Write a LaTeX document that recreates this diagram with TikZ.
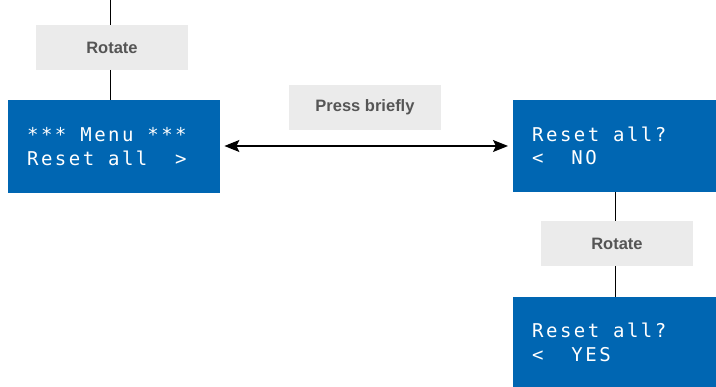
\documentclass[tikz,border=0pt]{standalone}
\usepackage{fontspec}
\setmainfont{Liberation Sans}
\newfontfamily\lcdfont[LetterSpace=13]{DejaVu Sans Mono}
\usetikzlibrary{arrows.meta}
\definecolor{lcdblue}{HTML}{0066B2}
\definecolor{labelgray}{HTML}{EBEBEB}
\definecolor{labeltext}{HTML}{555555}
\tikzset{
  screen/.style={fill=lcdblue, draw=none, inner sep=0pt, anchor=north west},
  screentext/.style={text=white, font=\lcdfont\fontsize{19}{21}\selectfont, anchor=base west, inner sep=0pt},
  action/.style={fill=labelgray, draw=none, inner sep=0pt, minimum width=152pt, minimum height=45pt,
    text=labeltext, font=\bfseries\fontsize{16.5}{18}\selectfont},
  link/.style={draw=black, line width=1pt},
  twoway/.style={draw=black, line width=1.3pt, {Stealth[length=15pt,width=12pt,inset=3pt]}-{Stealth[length=15pt,width=12pt,inset=3pt]}}
}
\begin{document}
\begin{tikzpicture}[x=1pt,y=-1pt]
\useasboundingbox (0,0) rectangle (716,387);

% display screens
\node[screen, minimum width=212pt, minimum height=93pt] (menu) at (8,100) {};
\node[screen, minimum width=203pt, minimum height=92pt] (no) at (513,100) {};
\node[screen, minimum width=203pt, minimum height=90pt] (yes) at (513,297) {};

\node[screentext] (menu1) at (27,141.5) {***\ Menu\ ***};
\node[screentext] (menu2) at (27,166) {Reset\ all\ \ >};
\node[screentext] (no1) at (532,141.5) {Reset\ all?};
\node[screentext] (no2) at (532,164.5) {<\ \ NO};
\node[screentext] (yes1) at (532,338) {Reset\ all?};
\node[screentext] (yes2) at (532,361.5) {<\ \ YES};

% action labels
\node[action] (rot1) at (112,47.5) {Rotate};
\node[action] (press) at (365,107.5) {Press briefly};
\node[action] (rot2) at (617,243.5) {Rotate};

% connectors
\coordinate (top) at (110,0);
\draw[link] (top) -- (top |- rot1.north);
\draw[link] (110,70) coordinate (r1s) -- (r1s |- menu.north);
\draw[link] (615,192) coordinate (n1) -- (n1 |- rot2.north);
\draw[link] (615,266) coordinate (r2s) -- (r2s |- yes.north);
\draw[twoway, shorten <=4pt, shorten >=5pt] (menu.east |- 0,146) -- (no.west |- 0,146);
\end{tikzpicture}
\end{document}
